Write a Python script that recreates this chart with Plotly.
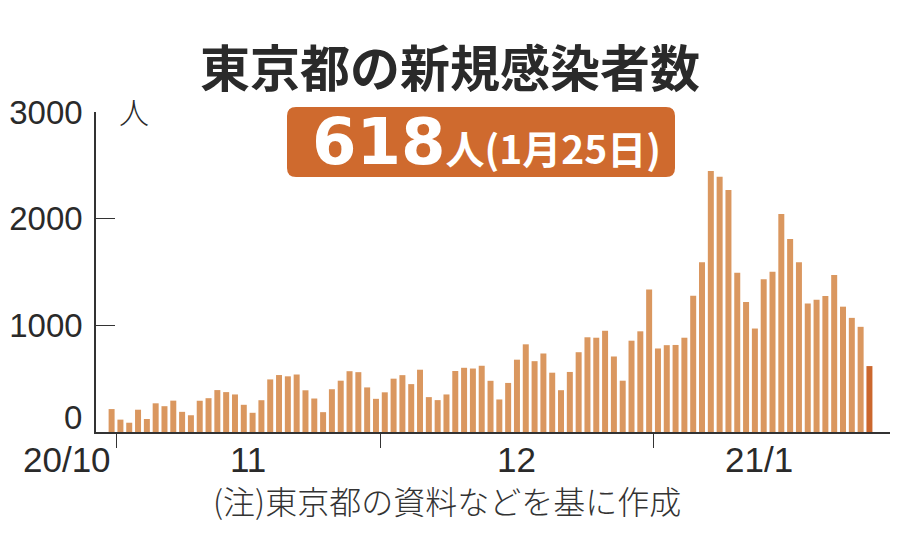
import plotly.graph_objects as go
import pandas as pd

# daily new cases, Tokyo, 2020/10/31 - 2021/1/25
dates = pd.date_range("2020-10-31", "2021-01-25", freq="D").strftime("%Y-%m-%d").tolist()
cases_oct = [215]
cases_nov = [116, 87, 209, 122, 269, 242, 294, 189, 157, 293,
             317, 393, 374, 352, 255, 180, 298, 493, 534, 522,
             539, 391, 314, 186, 401, 481, 570, 561, 418, 311]
cases_dec = [372, 500, 533, 449, 584, 327, 299, 352, 572, 602,
             595, 621, 480, 305, 460, 678, 822, 664, 736, 556,
             392, 563, 748, 888, 884, 949, 708, 481, 856, 944, 1337]
cases_jan = [783, 814, 816, 884, 1278, 1591, 2447, 2392, 2268, 1494,
             1219, 970, 1433, 1502, 2044, 1809, 1592, 1204, 1240, 1274,
             1471, 1175, 1070, 986, 618]
cases = cases_oct + cases_nov + cases_dec + cases_jan

month_ticks = ["2020-11-01", "2020-12-01", "2021-01-01"]
month_labels = ["11", "12", "21/1"]
month_label_pos = ["2020-11-16", "2020-12-16 12:00", "2021-01-13"]
y_ticks = [1000, 2000, 3000]

BAR = "#DA975F"
LAST = "#CB672D"
INK = "#2a2a2a"
NUM_FONT = "Liberation Sans"
JP_FONT = "Noto Sans CJK JP"
NUM_SIZE = 35
YNUM_SIZE = 33

# page body has an 8px margin, so the figure is shrunk by that much
OFF = 8
W, H = 900 - 2 * OFF, 558 - 2 * OFF
# plot area on screen: x 96..890, y 112..432
SX0, SX1, SY0, SY1 = 96, 890, 112, 432
L, T = SX0 - OFF, SY0 - OFF
R, B = W - (SX1 - OFF), H - (SY1 - OFF)
PW, PH = SX1 - SX0, SY1 - SY0


def px(x):
    return (x - SX0) / PW


def py(y):
    return (SY1 - y) / PH


colors = [BAR] * (len(cases) - 1) + [LAST]

fig = go.Figure(go.Bar(
    x=dates, y=cases,
    xperiod=86400000, xperiodalignment="middle",
    marker=dict(color=colors, line=dict(width=0)),
))

fig.update_layout(
    width=W, height=H,
    margin=dict(l=L, r=R, t=T, b=B, autoexpand=False),
    plot_bgcolor="white", paper_bgcolor="white",
    bargap=0.32, showlegend=False,
    font=dict(family=NUM_FONT, color=INK),
)
fig.update_xaxes(
    type="date", range=["2020-10-29 17:30", "2021-01-27 20:00"],
    showline=True, linecolor="#333", linewidth=1.5,
    tickmode="array", tickvals=month_ticks, showticklabels=False,
    ticks="outside", ticklen=14, tickcolor="#333", tickwidth=1.2,
    showgrid=False, zeroline=False, fixedrange=True, automargin=False,
)
fig.update_yaxes(
    range=[0, 3000], showline=True, linecolor="#333", linewidth=1.5,
    tickmode="array", tickvals=y_ticks, ticktext=[str(v) for v in y_ticks],
    ticks="inside", ticklen=19, tickcolor="#333", tickwidth=1.2,
    tickfont=dict(size=YNUM_SIZE, family=NUM_FONT, color=INK),
    ticklabelstandoff=5,
    showgrid=False, zeroline=False, fixedrange=True, automargin=False,
)

# month labels centred in each month
for pos, lab in zip(month_label_pos, month_labels):
    fig.add_annotation(x=pos, xref="x", y=py(459), yref="paper", text=lab,
                       showarrow=False, xanchor="center", yanchor="middle",
                       font=dict(size=NUM_SIZE, family=NUM_FONT, color=INK))
fig.add_annotation(x=px(67), xref="paper", y=py(459), yref="paper", text="20/10",
                   showarrow=False, xanchor="center", yanchor="middle",
                   font=dict(size=NUM_SIZE, family=NUM_FONT, color=INK))
# zero label sits on the baseline
fig.add_annotation(x=px(84), xref="paper", y=0, yref="paper", text="0",
                   showarrow=False, xanchor="right", yanchor="bottom", yshift=-6,
                   font=dict(size=YNUM_SIZE, family=NUM_FONT, color=INK))
# unit
fig.add_annotation(x=px(134), xref="paper", y=py(111), yref="paper", text="人",
                   showarrow=False, xanchor="center", yanchor="middle",
                   font=dict(size=30, family=JP_FONT, color=INK, weight=300))

# title
fig.add_annotation(x=px(450), xref="paper", y=py(65), yref="paper",
                   text="東京都の新規感染者数", showarrow=False,
                   xanchor="center", yanchor="middle",
                   font=dict(size=50, family=JP_FONT, color=INK, weight=700))

# rounded orange box
x0, x1, y0, y1 = px(287), px(675), py(177), py(107)
rx, ry = 9 / PW, 9 / PH
path = (f"M{x0 + rx},{y0} L{x1 - rx},{y0} Q{x1},{y0} {x1},{y0 + ry} "
        f"L{x1},{y1 - ry} Q{x1},{y1} {x1 - rx},{y1} "
        f"L{x0 + rx},{y1} Q{x0},{y1} {x0},{y1 - ry} "
        f"L{x0},{y0 + ry} Q{x0},{y0} {x0 + rx},{y0} Z")
fig.add_shape(type="path", path=path, xref="paper", yref="paper",
              fillcolor="#CF6A2E", line=dict(width=0), layer="above")
fig.add_annotation(
    x=px(486), xref="paper", y=py(142), yref="paper", showarrow=False,
    xanchor="center", yanchor="middle",
    text=("<span style='font-family:DejaVu Sans;font-size:64px'>618</span>"
          "<span style='font-family:Noto Sans CJK JP;font-size:39px'>人(1月25日)</span>"),
    font=dict(color="white", weight=700),
)

# source note
fig.add_annotation(x=px(447), xref="paper", y=py(500), yref="paper",
                   text="(注)東京都の資料などを基に作成", showarrow=False,
                   xanchor="center", yanchor="middle",
                   font=dict(size=32, family=JP_FONT, color="#333", weight=300))

fig.write_html("out.html")
